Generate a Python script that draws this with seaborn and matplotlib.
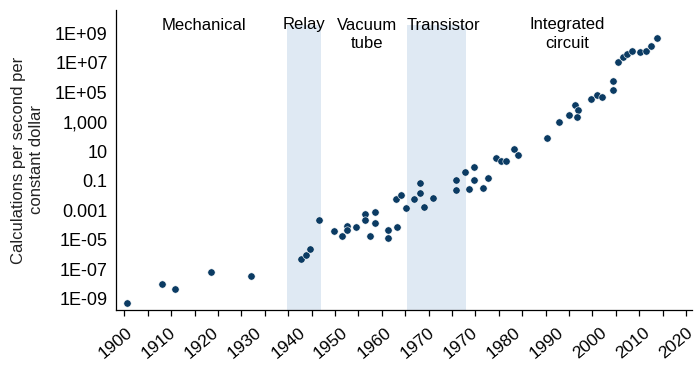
import numpy as np
import pandas as pd
import matplotlib
matplotlib.use("Agg")
import matplotlib.pyplot as plt
import matplotlib.transforms as mtransforms
from matplotlib.ticker import FixedLocator, FixedFormatter, NullFormatter
import seaborn as sns

# ---- data ----
years = [1900.5, 1908.0, 1910.8, 1918.5, 1927.1, 1937.8, 1938.9, 1939.7, 1941.6,
         1944.7, 1946.5, 1947.6, 1947.6, 1949.4, 1951.4, 1951.4, 1952.4, 1953.5,
         1953.5, 1956.3, 1956.3, 1958.2, 1958.1, 1959.1, 1960.2, 1961.9, 1963.1,
         1963.1, 1964.0, 1966.0, 1970.8, 1970.8, 1972.7, 1973.7, 1974.7, 1974.7,
         1976.6, 1977.8, 1979.5, 1980.5, 1981.6, 1983.2, 1984.2, 1990.3, 1992.9,
         1995.0, 1996.2, 1996.9, 1996.8, 1999.7, 2000.9, 2002.1, 2004.5, 2004.5,
         2005.4, 2006.5, 2007.5, 2008.5, 2010.2, 2011.5, 2012.6, 2013.8]
log10_calcs = [-9.29, -8.00, -8.34, -7.17, -7.42, -6.29, -6.02, -5.63, -3.64,
               -4.39, -4.73, -4.03, -4.34, -4.12, -3.24, -3.64, -4.75, -3.12,
               -3.85, -4.32, -4.86, -4.14, -2.22, -1.97, -2.85, -2.20, -1.16,
               -1.79, -2.74, -2.13, -0.93, -1.61, -0.37, -1.54, -0.05, -0.93,
               -1.47, -0.78, 0.58, 0.38, 0.36, 1.19, 0.78, 1.94, 2.98,
               3.47, 4.17, 3.81, 3.34, 4.56, 4.81, 4.72, 5.76, 5.19,
               7.07, 7.43, 7.61, 7.83, 7.77, 7.81, 8.17, 8.67]

era_names = ["Mechanical", "Relay", "Vacuum\ntube", "Transistor", "Integrated\ncircuit"]
era_label_x = [1916.9, 1938.4, 1951.9, 1968.1, 1994.6]
band_starts = [1934.8, 1960.3]
band_ends = [1942.1, 1973.1]

xtick_labels = ["1900", "1910", "1920", "1930", "1940", "1950", "1960", "1970",
                "1970", "1980", "1990", "2000", "2010", "2020"]
ytick_values = [1e-9, 1e-7, 1e-5, 1e-3, 1e-1, 1e1, 1e3, 1e5, 1e7, 1e9]
ytick_labels = ["1E-09", "1E-07", "1E-05", "0.001", "0.1", "10", "1,000",
                "1E+05", "1E+07", "1E+09"]
ylabel = "Calculations per second per\nconstant dollar"

df = pd.DataFrame({"year": years, "calcs": np.power(10.0, log10_calcs)})

# ---- style ----
sns.set_theme(style="white")
plt.rcParams["font.family"] = ["Liberation Sans", "DejaVu Sans"]

fig = plt.figure(figsize=(7.0, 3.71), dpi=100)
ax = fig.add_axes([116 / 700, 1 - 310 / 371, (692 - 116) / 700, 300 / 371])

band_color = "#dfe9f3"
for s, e in zip(band_starts, band_ends):
    ax.axvspan(s, e, ymin=0, ymax=0.95, color=band_color, lw=0, zorder=0)

sns.scatterplot(data=df, x="year", y="calcs", ax=ax, s=28, color="#0b3b63",
                edgecolor="white", linewidth=0.4, zorder=3, legend=False)

ax.set_yscale("log")
ax.set_xlim(1898.2, 2021.3)
ax.set_ylim(10 ** -9.746, 10 ** 10.593)

# y axis
ax.yaxis.set_major_locator(FixedLocator(ytick_values))
ax.yaxis.set_major_formatter(FixedFormatter(ytick_labels))
ax.yaxis.set_minor_locator(FixedLocator([]))
ax.tick_params(axis="y", which="both", length=0, pad=6, labelsize=13, colors="black")

# x axis: tick marks every 5 years, labels evenly spaced as in the reference
mark_pos = list(range(1900, 2021, 5))
ax.xaxis.set_major_locator(FixedLocator(mark_pos))
ax.xaxis.set_major_formatter(NullFormatter())
ax.xaxis.set_minor_locator(FixedLocator([]))
ax.tick_params(axis="x", which="major", length=4.5, width=0.9, color="black",
               direction="out", bottom=True)

label_pos = [1900.3 + 9.205 * i for i in range(len(xtick_labels))]
trans_x = mtransforms.blended_transform_factory(ax.transData, ax.transAxes)
for xp, lab in zip(label_pos, xtick_labels):
    ax.text(xp, -0.05, lab, transform=trans_x, rotation=40, ha="right",
            va="top", rotation_mode="anchor", fontsize=12.5, color="black",
            clip_on=False)

ax.set_xlabel("")
ax.set_ylabel(ylabel, fontsize=12, color="#222222", labelpad=8)

for sp in ["top", "right"]:
    ax.spines[sp].set_visible(False)
for sp in ["left", "bottom"]:
    ax.spines[sp].set_color("black")
    ax.spines[sp].set_linewidth(0.9)

for name, xp in zip(era_names, era_label_x):
    ax.text(xp, 0.975, name, transform=trans_x, ha="center", va="top",
            fontsize=12, color="black", linespacing=1.25, zorder=4)

fig.savefig("out.png", dpi=100, facecolor="white")
